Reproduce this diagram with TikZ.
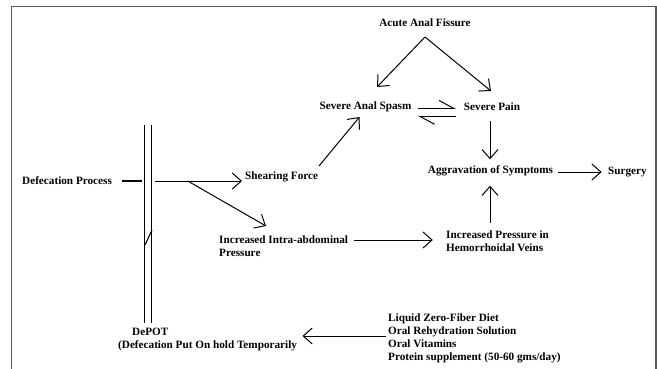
\documentclass[tikz,border=0pt]{standalone}
\usepackage{fontspec}
\setmainfont{Liberation Serif}
\usetikzlibrary{arrows.meta}
\tikzset{
  lbl/.style={inner sep=0pt, font=\fontsize{11.2}{13}\selectfont\bfseries, align=left},
  conn/.style={line width=1pt, -{Straight Barb[length=9pt,width=16pt,line width=1pt]}},
  halfconn/.style={line width=1pt, -{Straight Barb[harpoon,length=15pt,width=16pt,line width=1pt]}},
  plain/.style={line width=1.1pt},
  frame/.style={line width=1.5pt, draw=black!65}
}
\begin{document}
\begin{tikzpicture}[x=1pt,y=-1pt]
\useasboundingbox (0,0) rectangle (657,369);
\draw[frame] (11.5,369) -- (11.5,6.5) -- (656,6.5) -- (656,369);

% text nodes
\node[lbl] (acute) at (425,23) {Acute Anal Fissure};
\node[lbl] (spasm) at (365.5,107) {Severe Anal Spasm};
\node[lbl] (pain) at (492,107) {Severe Pain};
\node[lbl] (aggr) at (490.5,171) {Aggravation of Symptoms};
\node[lbl, anchor=west] (surgery) at (608,172) {Surgery};
\node[lbl, anchor=west] (defec) at (22,181) {Defecation Process};
\node[lbl, anchor=west] (shear) at (245,177) {Shearing Force};
\node[lbl, anchor=west] (intra) at (219,246.5) {Increased Intra-abdominal\\Pressure};
\node[lbl, anchor=west] (hemo) at (446,241.5) {Increased Pressure in\\Hemorrhoidal Veins};
\node[lbl, anchor=west] (depot) at (118,339.5) {\hspace{14pt}DePOT\\(Defecation Put On hold Temporarily};
\node[lbl, anchor=west] (diet) at (388,338.5) {Liquid Zero-Fiber Diet\\Oral Rehydration Solution\\Oral Vitamins\\Protein supplement (50-60 gms/day)};

% coordinates
\coordinate (dpA) at (122,181);
\coordinate (dpB) at (141.6,181);
\coordinate (split) at (155,181);
\coordinate (shearIn) at (242,181);
\coordinate (branch) at (187.7,181);
\coordinate (intraIn) at (266,226);
\coordinate (shearOut) at (319,166);
\coordinate (spasmIn) at (359.5,117);
\coordinate (acuteOut) at (425,37);
\coordinate (spasmTop) at (377,87);
\coordinate (painTop) at (491,91);
\coordinate (spR) at (417.7,108.5);
\coordinate (paL) at (456,108.5);
\coordinate (paL2) at (456,116.3);
\coordinate (spR2) at (417.7,116.3);
\coordinate (painBot) at (490,120.7);
\coordinate (aggrTop) at (490,159.3);
\coordinate (hemoTop) at (490,222.7);
\coordinate (aggrBot) at (490,185.7);
\coordinate (aggrR) at (558,172);
\coordinate (surgL) at (601.6,172);
\coordinate (intraR) at (354,240);
\coordinate (hemoL) at (432.8,240);
\coordinate (dietL) at (386,336);
\coordinate (depotR) at (302.5,336);
\coordinate (barL1) at (144.5,125);
\coordinate (barL2) at (144.5,323);
\coordinate (barR1) at (151.7,125);
\coordinate (barR2) at (151.7,323);
\coordinate (sl1) at (152,230);
\coordinate (sl2) at (145,245);

% double bar
\draw[plain] (barL1) -- (barL2);
\draw[plain] (barR1) -- (barR2);
\draw[plain] (sl1) -- (sl2);

% connectors
\draw[line width=2pt] (dpA) -- (dpB);
\draw[conn] (split) -- (shearIn);
\draw[conn] (branch) -- (intraIn);
\draw[conn] (shearOut) -- (spasmIn);
\draw[conn] (acuteOut) -- (spasmTop);
\draw[conn] (acuteOut) -- (painTop);
\draw[halfconn] (spR) -- (paL);
\draw[halfconn] (paL2) -- (spR2);
\draw[conn] (painBot) -- (aggrTop);
\draw[conn] (hemoTop) -- (aggrBot);
\draw[conn] (aggrR) -- (surgL);
\draw[conn] (intraR) -- (hemoL);
\draw[conn] (dietL) -- (depotR);
\end{tikzpicture}
\end{document}
